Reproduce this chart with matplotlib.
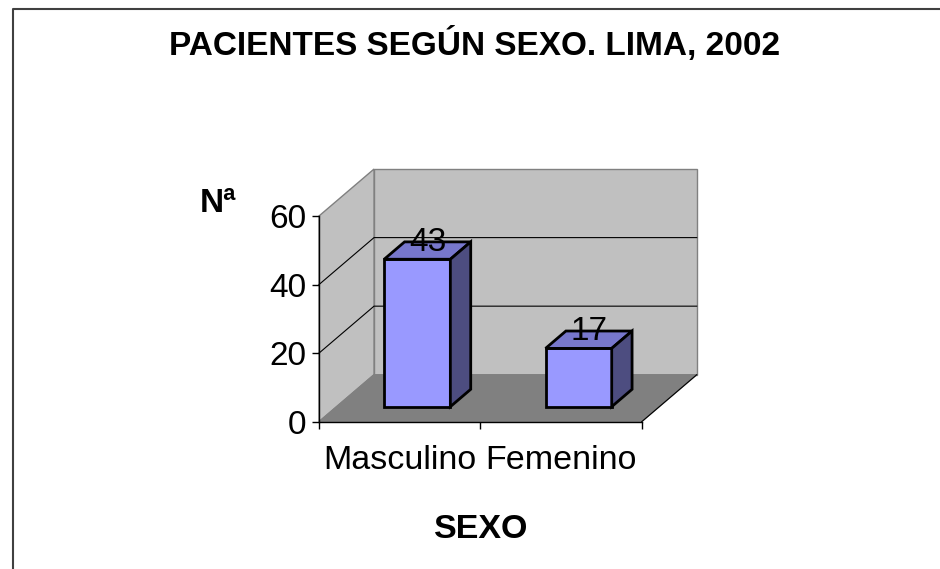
import matplotlib.pyplot as plt
from matplotlib.patches import Polygon
from matplotlib.lines import Line2D

plt.rcParams['font.family'] = ['Liberation Sans', 'DejaVu Sans']

categories = ['Masculino', 'Femenino']
values = [43, 17]
y_ticks = [0, 20, 40, 60]
title = 'PACIENTES SEGÚN SEXO. LIMA, 2002'

# depth of the fake 3d box, in data units (x per category, y per value)
DEPTH_X = 0.341
DEPTH_Y = 13.7
BAR_W = 0.41
BAR_D0, BAR_D1 = 0.32, 0.69

WALL = '#C0C0C0'
FLOOR = '#808080'
EDGE = '#808080'
FRONT = '#9999FF'
TOP = '#7777CC'
SIDE = '#4D4D80'


def proj(x, y, d):
    return (x + d * DEPTH_X, y + d * DEPTH_Y)


fig = plt.figure(figsize=(9.4, 5.69), dpi=100)
ax = fig.add_axes([319 / 940, 1 - 421.7 / 569, 322.7 / 940, 205.7 / 569])
ax.set_xlim(0, len(categories))
ax.set_ylim(0, y_ticks[-1])
ax.patch.set_visible(False)

n = len(categories)
ymax = y_ticks[-1]

def poly(pts, fc, ec, lw=1.0, z=1):
    p = Polygon(pts, closed=True, facecolor=fc, edgecolor=ec, linewidth=lw,
                clip_on=False, zorder=z, joinstyle='miter')
    ax.add_patch(p)

# walls and floor
poly([proj(0, 0, 1), proj(n, 0, 1), proj(n, ymax, 1), proj(0, ymax, 1)], WALL, EDGE)
poly([proj(0, 0, 0), proj(0, ymax, 0), proj(0, ymax, 1), proj(0, 0, 1)], WALL, EDGE)
poly([proj(0, 0, 0), proj(n, 0, 0), proj(n, 0, 1), proj(0, 0, 1)], FLOOR, FLOOR)
xs, ys = zip(proj(n, 0, 0), proj(n, 0, 1))
ax.plot(xs, ys, color='black', lw=0.8, clip_on=False, zorder=1.5)

# gridlines on left and back wall
for v in y_ticks[1:-1]:
    xs, ys = zip(proj(0, v, 0), proj(0, v, 1), proj(n, v, 1))
    ax.plot(xs, ys, color='black', lw=0.8, clip_on=False, zorder=1.2)

# bars
for i, v in enumerate(values):
    x0 = i + 0.5 - BAR_W / 2
    x1 = i + 0.5 + BAR_W / 2
    poly([proj(x0, 0, BAR_D0), proj(x1, 0, BAR_D0), proj(x1, v, BAR_D0), proj(x0, v, BAR_D0)],
         FRONT, 'black', 2.0, 3)
    poly([proj(x0, v, BAR_D0), proj(x1, v, BAR_D0), proj(x1, v, BAR_D1), proj(x0, v, BAR_D1)],
         TOP, 'black', 2.0, 3)
    poly([proj(x1, 0, BAR_D0), proj(x1, 0, BAR_D1), proj(x1, v, BAR_D1), proj(x1, v, BAR_D0)],
         SIDE, 'black', 2.0, 3)
    lx, ly = proj(i + 0.5, v, (BAR_D0 + BAR_D1) / 2)
    ax.text(lx, ly, str(v), ha='center', va='baseline', fontsize=24, zorder=4)

# axes
for s in ['top', 'right']:
    ax.spines[s].set_visible(False)
for s in ['left', 'bottom']:
    ax.spines[s].set_color('black')
    ax.spines[s].set_linewidth(1.0)
    ax.spines[s].set_zorder(2.5)

ax.set_yticks(y_ticks)
ax.set_yticklabels([str(t) for t in y_ticks])
ax.tick_params(axis='y', direction='out', length=5, width=1, pad=4, labelsize=24)
ax.set_xticks(range(n + 1))
ax.set_xticklabels([])
ax.set_xticks([i + 0.5 for i in range(n)], minor=True)
ax.set_xticklabels(categories, minor=True)
ax.tick_params(axis='x', which='major', direction='out', length=5, width=1)
ax.tick_params(axis='x', which='minor', length=0, pad=17, labelsize=24.5)

fig.text(475 / 940, 1 - 45 / 569, title, ha='center', va='center',
         fontsize=24, fontweight='bold')
fig.text(218 / 940, 1 - 203 / 569, 'Nª', ha='center', va='center',
         fontsize=24, fontweight='bold')
fig.text(481 / 940, 1 - 529 / 569, 'SEXO', ha='center', va='center',
         fontsize=24.5, fontweight='bold')

# chart area border (only top and left visible in the crop)
fig.add_artist(Line2D([13 / 940, 13 / 940, 1], [0, 1 - 8.5 / 569, 1 - 8.5 / 569],
                      color='#404040', lw=1.5, transform=fig.transFigure))

fig.savefig('out.png', dpi=100)
